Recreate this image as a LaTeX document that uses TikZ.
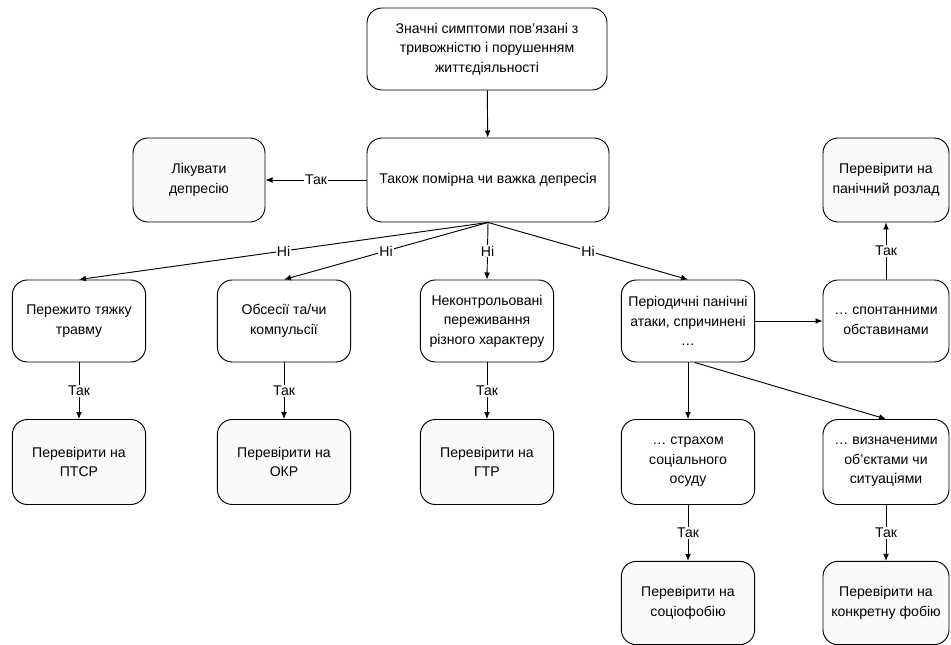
\documentclass[tikz,border=0pt]{standalone}
\usepackage{fontspec}
\setmainfont{Liberation Sans}
\usetikzlibrary{arrows.meta,calc,positioning}

\tikzset{
  qbox/.style={draw,thick,rounded corners=0.45cm,align=center,minimum width=4cm,minimum height=2.46cm,inner sep=2pt},
  rbox/.style={qbox,fill=black!2},
  ans/.style={fill=white,inner sep=1pt,pos=0.5}
}

\begin{document}
\begin{tikzpicture}[>={Latex[length=6pt,width=5pt]},every node/.style={font=\fontsize{12}{16.6}\selectfont}]
    \useasboundingbox (0,0) rectangle (28.53,-19.35);

    % Start:
    \node[qbox,minimum width=7.2cm] (symptoms) at (14.61,-1.47) {Значні симптоми пов’язані з\\тривожністю і порушенням\\життєдіяльності};
    \node[qbox,minimum width=7.26cm,minimum height=2.52cm] (depr) at (14.64,-5.40) {Також помірна чи важка депресія};
    \node[rbox,minimum width=3.96cm,minimum height=2.52cm] (treat) at (5.97,-5.40) {Лікувати\\депресію};

    % Questions
    \node[qbox] (trauma) at (2.37,-9.63) {Пережито тяжку\\травму};
    \node[qbox] (obsess) at (8.52,-9.63) {Обсесії та/чи\\компульсії};
    \node[qbox] (worry) at (14.61,-9.63) {Неконтрольовані\\переживання\\різного характеру};
    \node[qbox] (attacks) at (20.64,-9.63) {Періодичні панічні\\атаки, спричинені\\…};
    \node[qbox,minimum width=3.78cm] (spont) at (26.58,-9.63) {… спонтанними\\обставинами};
    \node[qbox,minimum height=2.55cm] (social) at (20.64,-13.86) {… страхом\\соціального\\осуду};
    \node[qbox,minimum width=3.78cm,minimum height=2.55cm] (objects) at (26.58,-13.86) {… визначеними\\об’єктами чи\\ситуаціями};

    % Results
    \node[rbox,minimum height=2.55cm] (ptsd) at (2.37,-13.86) {Перевірити на\\ПТСР};
    \node[rbox,minimum height=2.55cm] (ocd) at (8.52,-13.86) {Перевірити на\\ОКР};
    \node[rbox,minimum height=2.55cm] (gad) at (14.61,-13.86) {Перевірити на\\ГТР};
    \node[rbox,minimum width=3.78cm,minimum height=2.52cm] (panic) at (26.58,-5.40) {Перевірити на\\панічний розлад};
    \node[rbox,minimum height=2.5cm] (sociophob) at (20.64,-18.09) {Перевірити на\\соціофобію};
    \node[rbox,minimum width=3.78cm,minimum height=2.5cm] (phobia) at (26.58,-18.09) {Перевірити на\\конкретну фобію};

    % Arrows
    \draw[->,thick] (symptoms) -- (depr);
    \draw[->,thick] (depr) -- (treat) node[ans] {Так};
    \draw[->,thick] (depr.south) -- (trauma.north) node[ans] {Ні};
    \draw[->,thick] (depr.south) -- (obsess.north) node[ans] {Ні};
    \draw[->,thick] (depr.south) -- (worry.north) node[ans] {Ні};
    \draw[->,thick] (depr.south) -- (attacks.north) node[ans] {Ні};
    \draw[->,thick] (trauma) -- (ptsd) node[ans] {Так};
    \draw[->,thick] (obsess) -- (ocd) node[ans] {Так};
    \draw[->,thick] (worry) -- (gad) node[ans] {Так};
    \draw[->,thick] (attacks) -- (spont);
    \draw[->,thick] (spont) -- (panic) node[ans] {Так};
    \draw[->,thick] (attacks) -- (social);
    \draw[->,thick] ($(attacks.south)+(0.2,0)$) -- (objects.north);
    \draw[->,thick] (social) -- (sociophob) node[ans] {Так};
    \draw[->,thick] (objects) -- (phobia) node[ans] {Так};
  \end{tikzpicture}
\end{document}
